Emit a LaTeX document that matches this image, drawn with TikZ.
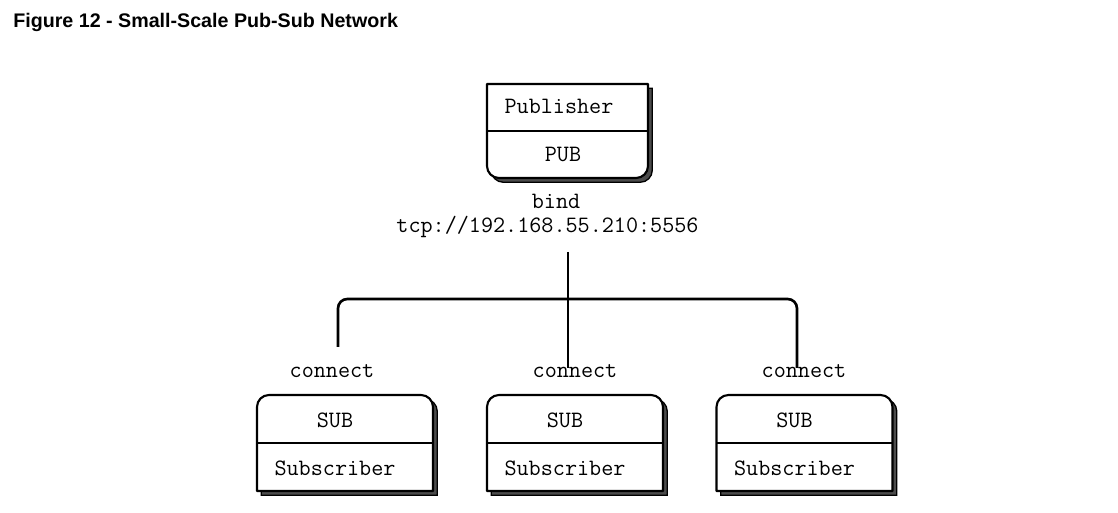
\documentclass[tikz,border=0pt]{standalone}
\usepackage{fontspec}
\setsansfont{Liberation Sans}
\usetikzlibrary{positioning, calc}

\begin{document}
\begin{tikzpicture}[
  x=0.75pt, y=0.75pt,
  mono/.style={font=\ttfamily\fontsize{17.6}{19}\selectfont, anchor=base, inner sep=0pt},
  area/.style={inner sep=0pt, outer sep=0pt},
  boxshape/.style={line width=1.6pt, fill=white, line join=round,
    preaction={draw=black, fill=black!70, line width=1pt,
               transform canvas={xshift=3.2pt, yshift=-3.2pt}}},
  wire/.style={line width=2pt},
]
\def\rr{9pt}
\useasboundingbox (0,0) rectangle (1118,-513);

% Title
\node[anchor=base west, inner sep=0pt,
      font=\sffamily\bfseries\fontsize{14.75}{16}\selectfont] (title) at (13,-28)
  {Figure 12 - Small-Scale Pub-Sub Network};

% Publisher
\node[area, minimum width=120.75pt, minimum height=70.5pt] (pub) at (567.5,-131) {};
\draw[boxshape] (pub.north west) -- (pub.north east)
  -- ([yshift=\rr]pub.south east) arc[start angle=0, end angle=-90, radius=\rr]
  -- ([xshift=\rr]pub.south west) arc[start angle=-90, end angle=-180, radius=\rr]
  -- cycle;
\draw[line width=1.6pt] (pub.west) -- (pub.east);
\node[mono] (pubname) at (559,-114) {Publisher};
\node[mono] (pubsock) at (563,-162) {PUB};

% Bind address
\node[mono] (bind) at (556,-209) {bind};
\node[mono] (addr) at (547.5,-233) {tcp://192.168.55.210:5556};

% Subscribers
\foreach \i/\cx/\lx in {1/345/332, 2/575/575, 3/804.5/804} {
  \node[area, minimum width=132pt, minimum height=72pt] (sub\i) at (\cx,-443) {};
  \draw[boxshape] (sub\i.south west)
    -- ([yshift=-\rr]sub\i.north west) arc[start angle=180, end angle=90, radius=\rr]
    -- ([xshift=-\rr]sub\i.north east) arc[start angle=90, end angle=0, radius=\rr]
    -- (sub\i.south east) -- cycle;
  \draw[line width=1.6pt] (sub\i.west) -- (sub\i.east);
  \node[mono] (subsock\i) at (\cx-10,-427) {SUB};
  \node[mono] (subname\i) at (\cx-10,-475) {Subscriber};
  \node[mono] (conn\i) at (\lx,-378) {connect};
}

% Bus
\coordinate (hub) at (568,-252);
\coordinate (bus) at (568,-299);
\coordinate (tap1) at (338,-347);
\coordinate (tap2) at (568,-368);
\coordinate (tap3) at (797,-368);
\draw[wire] (hub) -- (tap2);
\draw[wire, rounded corners=7pt] (tap1) -- (tap1 |- bus) -- (tap3 |- bus) -- (tap3);

\end{tikzpicture}
\end{document}
